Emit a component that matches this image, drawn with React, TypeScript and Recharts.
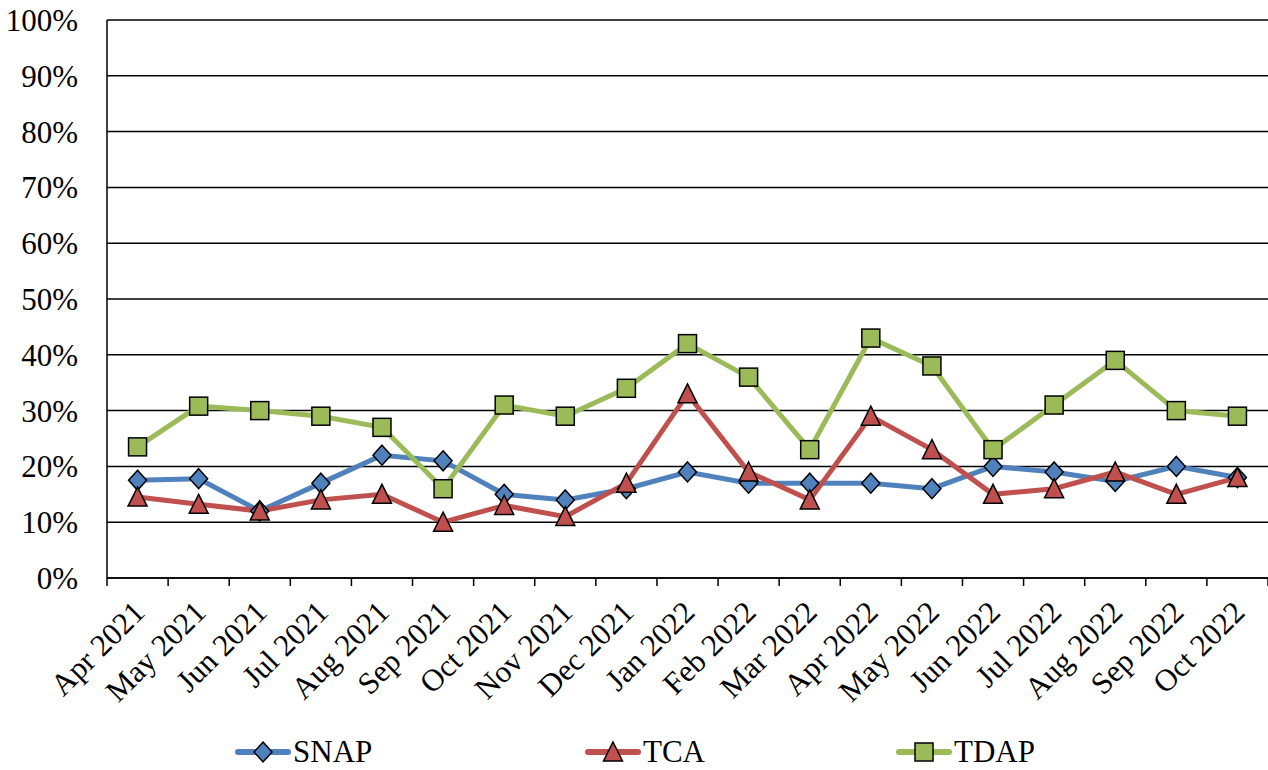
import { LineChart, Line, XAxis, YAxis, CartesianGrid, Legend } from "recharts";

const MONTHS = [
  "Apr 2021", "May 2021", "Jun 2021", "Jul 2021", "Aug 2021", "Sep 2021", "Oct 2021",
  "Nov 2021", "Dec 2021", "Jan 2022", "Feb 2022", "Mar 2022", "Apr 2022", "May 2022",
  "Jun 2022", "Jul 2022", "Aug 2022", "Sep 2022", "Oct 2022",
];

// percentages
const SNAP = [17.5, 17.8, 12, 17, 22, 21, 15, 14, 16, 19, 17, 17, 17, 16, 20, 19, 17.3, 20, 18];
const TCA = [14.5, 13.2, 12, 14, 15, 10, 13, 11, 17, 33, 19, 14, 29, 23, 15, 16, 19, 15, 18];
const TDAP = [23.5, 30.8, 30, 29, 27, 16, 31, 29, 34, 42, 36, 23, 43, 38, 23, 31, 39, 30, 29];

const Y_TICKS = [0, 10, 20, 30, 40, 50, 60, 70, 80, 90, 100];

const FONT = "'Liberation Serif', 'Times New Roman', serif";
const BLUE = "#4F81BD";
const RED = "#C0504D";
const GREEN = "#9BBB59";

const data = MONTHS.map((m, i) => ({ x: i + 0.5, month: m, snap: SNAP[i], tca: TCA[i], tdap: TDAP[i] }));
const boundaryTicks = MONTHS.map((_, i) => i).concat([MONTHS.length]);
const centerTicks = MONTHS.map((_, i) => i + 0.5);

function Diamond({ cx, cy, fill }: { cx: number; cy: number; fill: string }) {
  return (
    <polygon
      points={`${cx},${cy - 10} ${cx + 9},${cy} ${cx},${cy + 10} ${cx - 9},${cy}`}
      fill={fill} stroke="#000" strokeWidth={1.5}
    />
  );
}

function Triangle({ cx, cy, fill }: { cx: number; cy: number; fill: string }) {
  return (
    <polygon
      points={`${cx},${cy - 10} ${cx + 9.5},${cy + 9} ${cx - 9.5},${cy + 9}`}
      fill={fill} stroke="#000" strokeWidth={1.5}
    />
  );
}

function Square({ cx, cy, fill }: { cx: number; cy: number; fill: string }) {
  return <rect x={cx - 9} y={cy - 9} width={18} height={18} fill={fill} stroke="#000" strokeWidth={1.5} />;
}

function MonthTick({ x, y, payload }: any) {
  const label = MONTHS[Math.floor(payload.value)];
  return (
    <g transform={`translate(${x + 9},${y + 20})`}>
      <text textAnchor="end" transform="rotate(-45)" fontSize={31} fontFamily={FONT} fill="#000">
        {label}
      </text>
    </g>
  );
}

const LEGEND = [
  { name: "SNAP", color: BLUE, Marker: Diamond, left: 235 },
  { name: "TCA", color: RED, Marker: Triangle, left: 585 },
  { name: "TDAP", color: GREEN, Marker: Square, left: 896 },
];

function ChartLegend() {
  return (
    <div style={{ position: "relative", width: 1268, height: 34 }}>
      {LEGEND.map(({ name, color, Marker, left }) => (
        <div key={name} style={{ position: "absolute", left, top: 0, display: "flex", alignItems: "center" }}>
          <svg width={56} height={34}>
            <line x1={3} y1={17} x2={53} y2={17} stroke={color} strokeWidth={6} strokeLinecap="round" />
            <Marker cx={28} cy={17} fill={color} />
          </svg>
          <span style={{ fontFamily: FONT, fontSize: 31, color: "#000", marginLeft: 2, lineHeight: "34px" }}>{name}</span>
        </div>
      ))}
    </div>
  );
}

export default function App() {
  return (
    <div style={{ position: "absolute", left: 0, top: 0, width: 1268, height: 770, background: "#fff" }}>
      <LineChart width={1268} height={770} data={data} margin={{ top: 20, right: 0, bottom: 0, left: 0 }}>
        <CartesianGrid horizontal vertical={false} stroke="#000" strokeWidth={1.5} />
        <XAxis
          xAxisId="edge"
          type="number"
          dataKey="x"
          domain={[0, MONTHS.length]}
          ticks={boundaryTicks}
          tickSize={8}
          height={8}
          axisLine={{ stroke: "#000", strokeWidth: 1.5 }}
          tickLine={{ stroke: "#000", strokeWidth: 1.5 }}
          tick={() => <g />}
          interval={0}
        />
        <XAxis
          xAxisId="label"
          type="number"
          dataKey="x"
          domain={[0, MONTHS.length]}
          ticks={centerTicks}
          height={184}
          axisLine={false}
          tickLine={false}
          tick={<MonthTick />}
          interval={0}
        />
        <YAxis
          type="number"
          domain={[0, 100]}
          ticks={Y_TICKS}
          width={107}
          tickLine={false}
          tickMargin={23}
          axisLine={{ stroke: "#000", strokeWidth: 1.5 }}
          tickFormatter={(v: number) => `${v}%`}
          tick={{ fontSize: 31, fontFamily: FONT, fill: "#000" }}
          interval={0}
        />
        <Legend
          verticalAlign="middle"
          align="center"
          layout="horizontal"
          wrapperStyle={{ top: 735, left: 0, width: 1268 }}
          content={() => <ChartLegend />}
        />
        <Line
          xAxisId="edge"
          dataKey="snap"
          stroke={BLUE}
          strokeWidth={5}
          isAnimationActive={false}
          dot={(p: any) => <Diamond key={`s${p.index}`} cx={p.cx} cy={p.cy} fill={BLUE} />}
          activeDot={false}
        />
        <Line
          xAxisId="edge"
          dataKey="tca"
          stroke={RED}
          strokeWidth={5}
          isAnimationActive={false}
          dot={(p: any) => <Triangle key={`t${p.index}`} cx={p.cx} cy={p.cy} fill={RED} />}
          activeDot={false}
        />
        <Line
          xAxisId="edge"
          dataKey="tdap"
          stroke={GREEN}
          strokeWidth={5}
          isAnimationActive={false}
          dot={(p: any) => <Square key={`d${p.index}`} cx={p.cx} cy={p.cy} fill={GREEN} />}
          activeDot={false}
        />
      </LineChart>
    </div>
  );
}
